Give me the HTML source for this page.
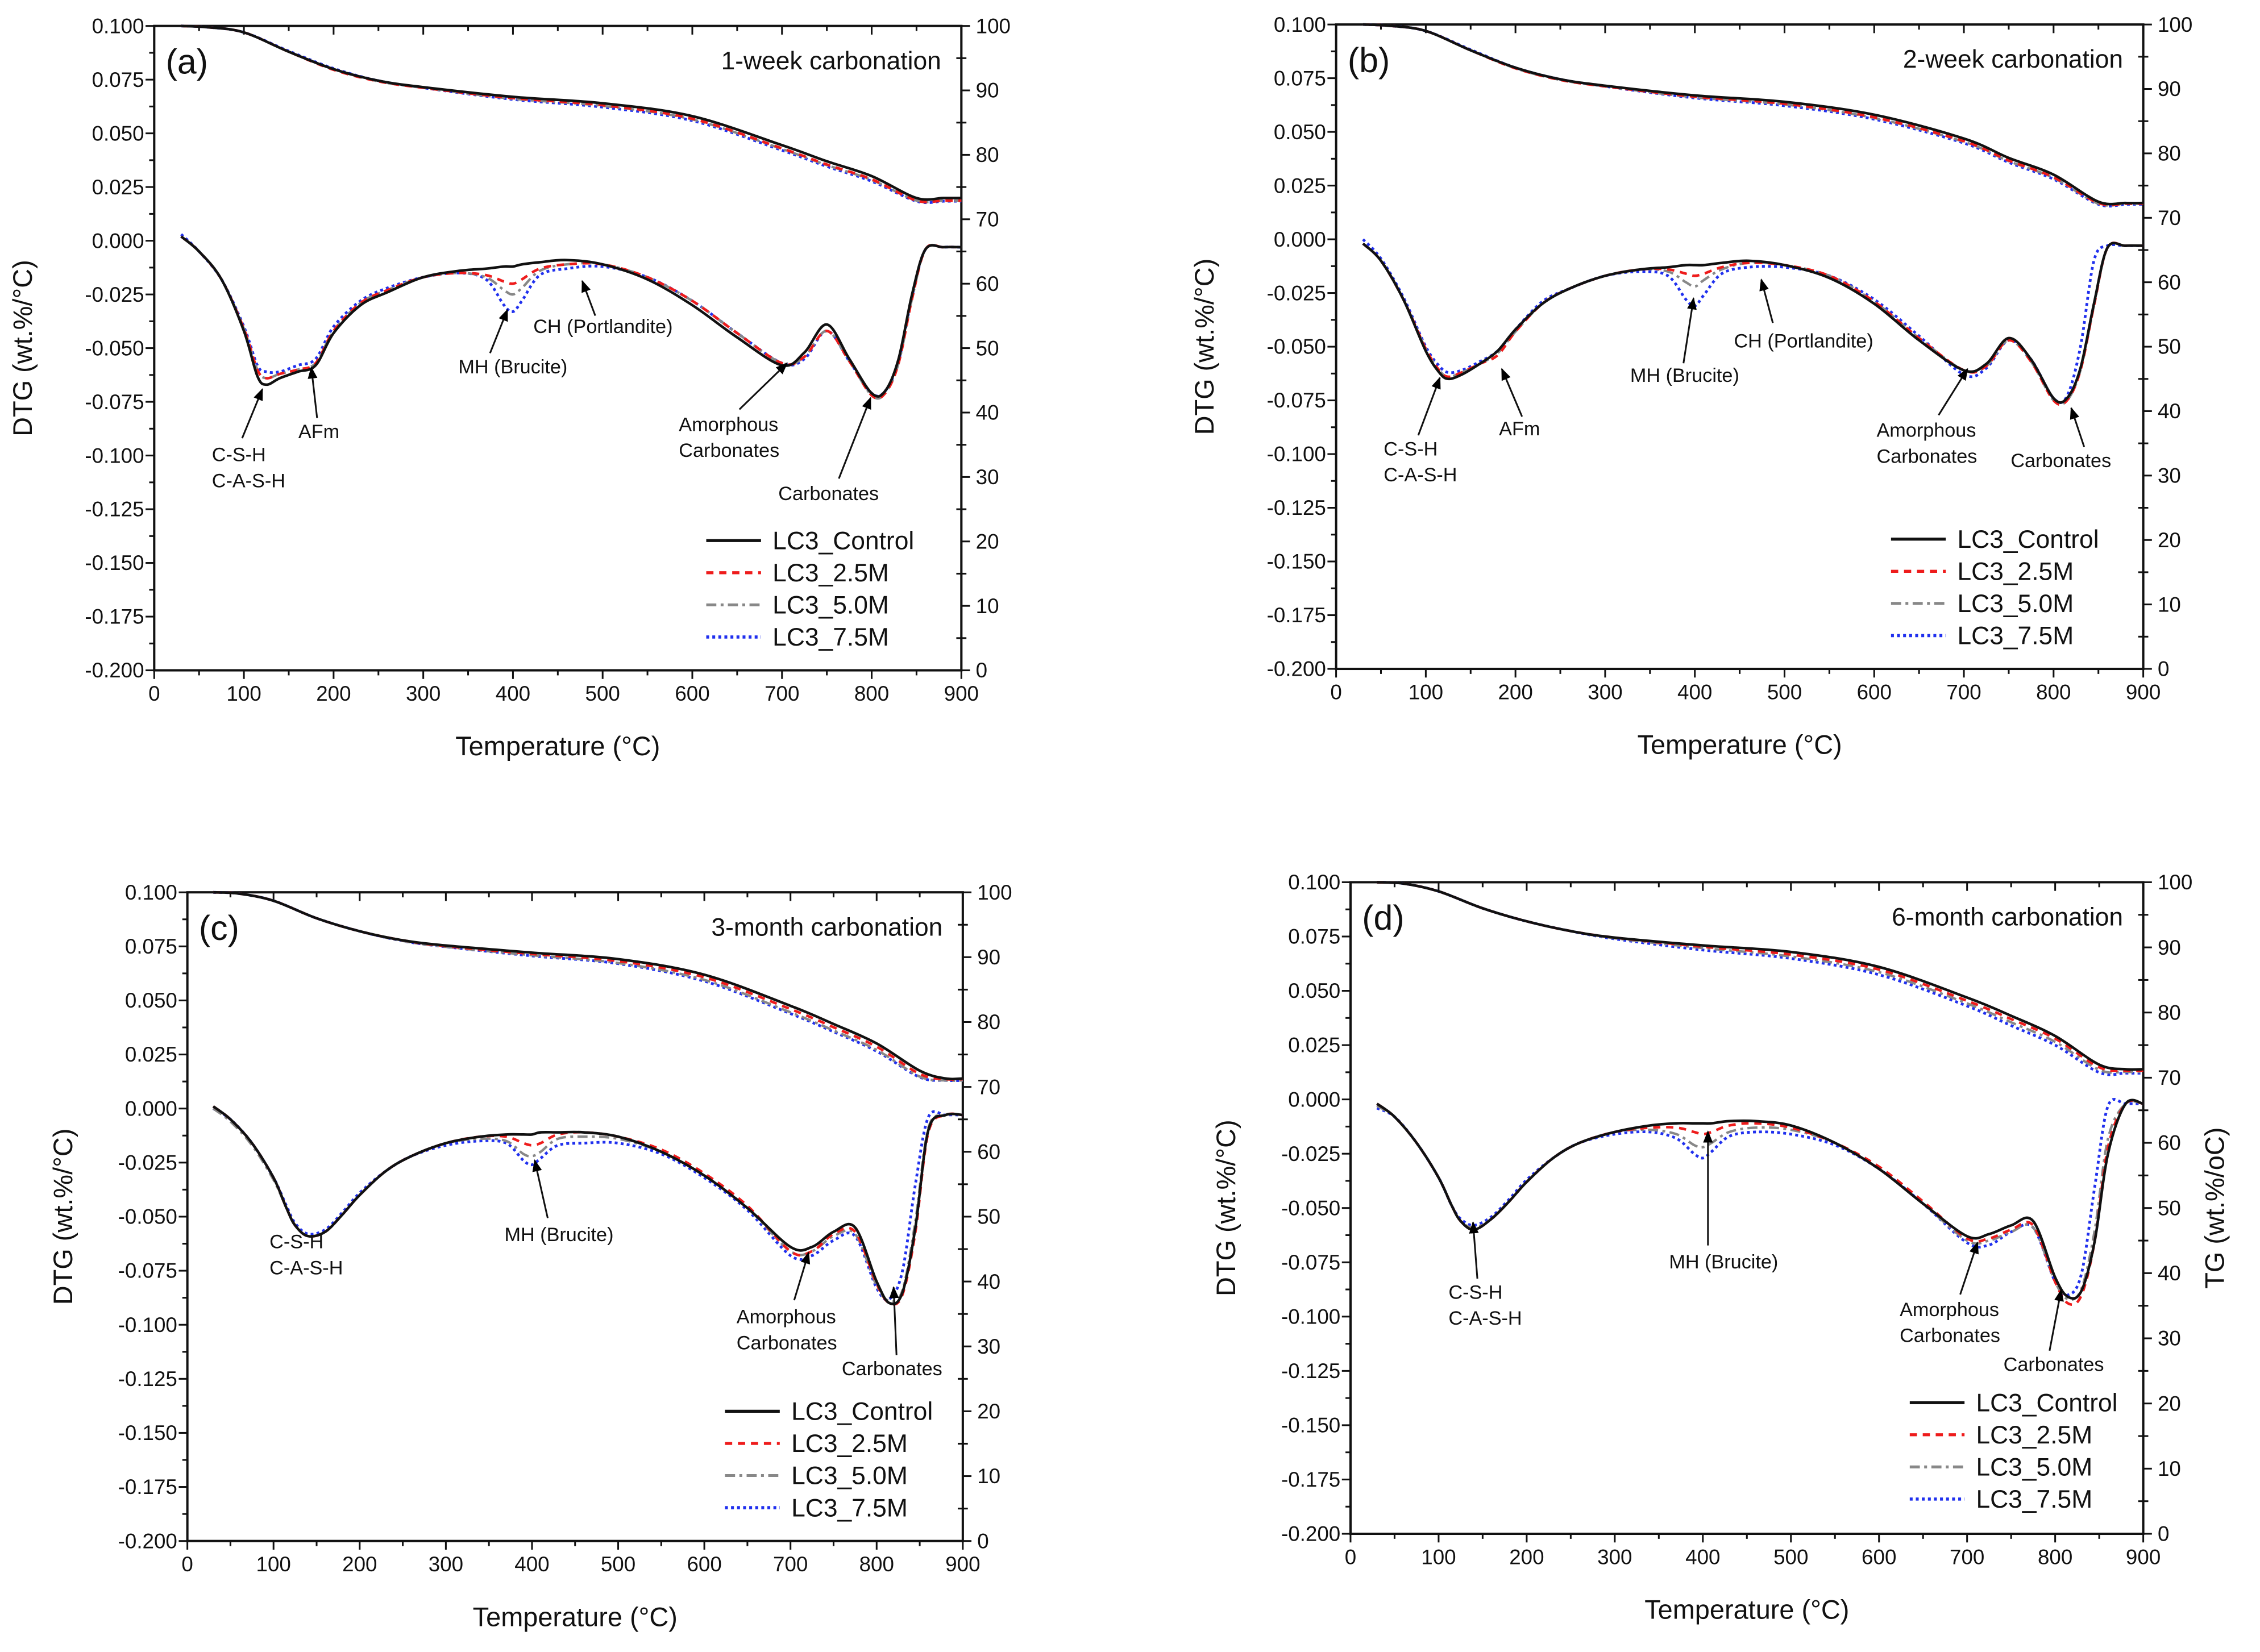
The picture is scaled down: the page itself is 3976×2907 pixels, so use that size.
<!DOCTYPE html>
<html><head><meta charset="utf-8">
<style>
html,body{margin:0;padding:0;background:#fff;}
svg{display:block;font-family:"Liberation Sans",Arial,sans-serif;}
</style></head>
<body>
<svg id="fig" width="3976" height="2907" viewBox="0 0 1568 1146" preserveAspectRatio="none" xmlns="http://www.w3.org/2000/svg">
<defs>
<marker id="ah" viewBox="0 0 10 10" refX="9" refY="5" markerWidth="7" markerHeight="7" orient="auto-start-reverse"><path d="M0,1 L10,5 L0,9 z" fill="#000"/></marker>
</defs>
</svg>
<script>
// shared temperature grids
const T = [30,50,75,100,115,125,140,160,180,200,230,260,300,340,370,390,400,410,430,460,500,550,600,650,700,725,750,775,800,815,830,845,860,880,900];
const TT = [30,60,100,150,200,250,300,400,500,600,700,750,800,850,880,900];
const seriesNames = ["LC3_Control","LC3_2.5M","LC3_5.0M","LC3_7.5M"];

// panel (a) DTG
const aCtrl = [0.002,-0.005,-0.018,-0.042,-0.063,-0.067,-0.064,-0.061,-0.058,-0.043,-0.030,-0.024,-0.017,-0.014,-0.013,-0.012,-0.012,-0.011,-0.010,-0.009,-0.011,-0.018,-0.030,-0.045,-0.058,-0.052,-0.039,-0.055,-0.071,-0.070,-0.055,-0.025,-0.004,-0.003,-0.003];
const a25 = [0.002,-0.005,-0.018,-0.041,-0.060,-0.064,-0.062,-0.060,-0.057,-0.042,-0.029,-0.023,-0.017,-0.015,-0.016,-0.019,-0.020,-0.018,-0.013,-0.011,-0.011,-0.017,-0.028,-0.043,-0.057,-0.054,-0.042,-0.056,-0.072,-0.071,-0.057,-0.027,-0.004,-0.003,-0.003];
const a50 = [0.002,-0.005,-0.018,-0.041,-0.060,-0.064,-0.062,-0.060,-0.057,-0.042,-0.029,-0.023,-0.017,-0.015,-0.017,-0.023,-0.025,-0.022,-0.014,-0.011,-0.011,-0.017,-0.028,-0.043,-0.057,-0.054,-0.042,-0.056,-0.072,-0.071,-0.057,-0.027,-0.004,-0.003,-0.003];
const a75 = [0.003,-0.005,-0.018,-0.040,-0.058,-0.061,-0.061,-0.058,-0.055,-0.040,-0.028,-0.022,-0.017,-0.015,-0.018,-0.030,-0.033,-0.028,-0.016,-0.013,-0.012,-0.017,-0.028,-0.043,-0.057,-0.055,-0.042,-0.056,-0.071,-0.070,-0.056,-0.026,-0.004,-0.003,-0.003];
// panel (a) TG %
const aTgCtrl = [100,99.8,99,96,93.3,91.5,90.5,89,88,86,81.5,79,76.7,73.3,73.3,73.3];
const aTg25 = [100,99.8,99,96,93.2,91.4,90.4,88.8,87.7,85.6,81,78.5,76.2,72.9,72.9,72.9];
const aTg50 = [100,99.8,99,96,93.3,91.4,90.4,88.7,87.6,85.5,80.9,78.4,76.1,72.9,72.9,72.9];
const aTg75 = [100,99.8,99,96.1,93.4,91.5,90.4,88.6,87.4,85.3,80.7,78.2,75.9,72.8,72.8,72.8];

// panel (b)
const bCtrl = [-0.002,-0.010,-0.028,-0.052,-0.062,-0.065,-0.063,-0.058,-0.052,-0.042,-0.030,-0.023,-0.017,-0.014,-0.013,-0.012,-0.012,-0.012,-0.011,-0.010,-0.012,-0.018,-0.030,-0.047,-0.061,-0.058,-0.046,-0.056,-0.074,-0.074,-0.060,-0.030,-0.004,-0.003,-0.003];
const b25 = [-0.002,-0.010,-0.028,-0.051,-0.061,-0.064,-0.062,-0.058,-0.054,-0.043,-0.030,-0.023,-0.017,-0.014,-0.014,-0.016,-0.017,-0.016,-0.013,-0.011,-0.012,-0.017,-0.029,-0.046,-0.061,-0.059,-0.047,-0.057,-0.075,-0.075,-0.061,-0.031,-0.004,-0.003,-0.003];
const b50 = [-0.002,-0.010,-0.028,-0.051,-0.061,-0.064,-0.062,-0.058,-0.053,-0.043,-0.030,-0.023,-0.017,-0.014,-0.015,-0.020,-0.022,-0.019,-0.014,-0.011,-0.012,-0.017,-0.029,-0.046,-0.061,-0.059,-0.047,-0.057,-0.075,-0.075,-0.061,-0.031,-0.004,-0.003,-0.003];
const b75 = [0.000,-0.009,-0.027,-0.050,-0.059,-0.062,-0.061,-0.057,-0.052,-0.042,-0.029,-0.023,-0.017,-0.015,-0.017,-0.028,-0.031,-0.026,-0.016,-0.013,-0.013,-0.017,-0.028,-0.045,-0.063,-0.060,-0.047,-0.056,-0.074,-0.073,-0.050,-0.010,-0.003,-0.003,-0.003];
const bTgCtrl = [100,99.8,99,96,93.3,91.5,90.5,89,88,86,82.3,79.3,76.7,72.5,72.3,72.3];
const bTg25 = [100,99.8,99,96,93.2,91.4,90.4,88.8,87.7,85.6,81.9,78.9,76.3,72.3,72.2,72.2];
const bTg50 = [100,99.8,99,96,93.2,91.4,90.4,88.7,87.6,85.5,81.8,78.8,76.2,72.2,72.2,72.2];
const bTg75 = [100,99.8,99,96.1,93.3,91.5,90.4,88.6,87.4,85.3,81.6,78.6,76,72.1,72.1,72.1];

// panel (c)
const cCtrl = [0.001,-0.005,-0.016,-0.032,-0.046,-0.054,-0.059,-0.057,-0.049,-0.040,-0.029,-0.022,-0.016,-0.013,-0.012,-0.012,-0.012,-0.011,-0.011,-0.011,-0.013,-0.020,-0.031,-0.046,-0.064,-0.064,-0.057,-0.055,-0.080,-0.090,-0.085,-0.055,-0.010,-0.003,-0.003];
const c25 = [0.001,-0.005,-0.016,-0.032,-0.046,-0.054,-0.059,-0.057,-0.049,-0.040,-0.029,-0.022,-0.016,-0.013,-0.013,-0.016,-0.017,-0.016,-0.012,-0.011,-0.013,-0.019,-0.030,-0.045,-0.066,-0.066,-0.058,-0.057,-0.081,-0.090,-0.086,-0.057,-0.011,-0.003,-0.003];
const c50 = [0.000,-0.006,-0.017,-0.033,-0.046,-0.054,-0.059,-0.057,-0.049,-0.040,-0.029,-0.022,-0.016,-0.014,-0.015,-0.021,-0.022,-0.020,-0.014,-0.013,-0.014,-0.020,-0.031,-0.046,-0.066,-0.066,-0.059,-0.058,-0.082,-0.089,-0.084,-0.052,-0.009,-0.003,-0.003];
const c75 = [0.000,-0.005,-0.016,-0.032,-0.045,-0.053,-0.058,-0.056,-0.048,-0.039,-0.029,-0.022,-0.017,-0.015,-0.016,-0.024,-0.026,-0.023,-0.017,-0.016,-0.016,-0.021,-0.032,-0.047,-0.068,-0.068,-0.061,-0.059,-0.083,-0.088,-0.075,-0.035,-0.004,-0.003,-0.003];
const cTgCtrl = [100,99.8,98.7,96,94,92.6,91.8,90.7,89.7,87.3,82.5,79.7,76.7,72.5,71.3,71.3];
const cTg25 = [100,99.8,98.7,96,94,92.6,91.7,90.5,89.4,86.9,82,79.2,76.2,72,71.2,71.2];
const cTg50 = [100,99.8,98.7,96,94,92.5,91.6,90.3,89.1,86.5,81.5,78.7,75.7,71.6,71,71];
const cTg75 = [100,99.8,98.7,96,94,92.5,91.6,90.2,89,86.3,81.3,78.5,75.5,71.5,71,71];

// panel (d)
const dCtrl = [-0.002,-0.008,-0.020,-0.036,-0.049,-0.056,-0.060,-0.055,-0.047,-0.038,-0.027,-0.020,-0.015,-0.012,-0.011,-0.011,-0.011,-0.011,-0.010,-0.010,-0.012,-0.020,-0.032,-0.048,-0.063,-0.062,-0.058,-0.056,-0.082,-0.091,-0.088,-0.065,-0.025,-0.002,-0.002];
const d25 = [-0.002,-0.008,-0.020,-0.036,-0.049,-0.056,-0.060,-0.055,-0.047,-0.038,-0.027,-0.020,-0.015,-0.013,-0.013,-0.015,-0.016,-0.015,-0.012,-0.011,-0.013,-0.020,-0.031,-0.047,-0.064,-0.064,-0.060,-0.058,-0.084,-0.094,-0.090,-0.065,-0.022,-0.002,-0.002];
const d50 = [-0.003,-0.008,-0.020,-0.036,-0.049,-0.056,-0.059,-0.055,-0.047,-0.038,-0.027,-0.020,-0.015,-0.014,-0.016,-0.021,-0.022,-0.020,-0.015,-0.013,-0.014,-0.020,-0.032,-0.048,-0.065,-0.065,-0.061,-0.059,-0.084,-0.092,-0.087,-0.060,-0.018,-0.002,-0.002];
const d75 = [-0.004,-0.008,-0.020,-0.036,-0.049,-0.055,-0.058,-0.054,-0.046,-0.037,-0.027,-0.020,-0.016,-0.015,-0.018,-0.025,-0.027,-0.024,-0.017,-0.015,-0.016,-0.021,-0.032,-0.048,-0.066,-0.067,-0.061,-0.059,-0.084,-0.090,-0.080,-0.040,-0.003,-0.002,-0.002];
const dTgCtrl = [100,99.8,98.6,96,94,92.5,91.5,90.3,89.3,87,82.3,79.5,76.4,72,71.3,71.3];
const dTg25 = [100,99.8,98.6,96,94,92.5,91.5,90.1,88.9,86.6,81.8,79,76,71.6,71.1,71.1];
const dTg50 = [100,99.8,98.6,96,94,92.5,91.4,89.9,88.6,86.2,81.4,78.5,75.5,71.2,70.9,70.9];
const dTg75 = [100,99.8,98.6,96,94,92.5,91.3,89.6,88.3,85.8,81,78,75,70.8,70.7,70.7];

const leftTicks = ["0.100","0.075","0.050","0.025","0.000","-0.025","-0.050","-0.075","-0.100","-0.125","-0.150","-0.175","-0.200"];
const rightTicks = ["0","10","20","30","40","50","60","70","80","90","100"];
const xTicks = ["0","100","200","300","400","500","600","700","800","900"];

const svg = document.getElementById('fig');
const NS = "http://www.w3.org/2000/svg";
function mk(tag, attrs, parent){ const e=document.createElementNS(NS,tag); for(const k in attrs) e.setAttribute(k,attrs[k]); (parent||svg).appendChild(e); return e; }
function txt(s, x, y, size, anchor, parent){ const t=mk('text',{x:x,y:y,'font-size':size,'text-anchor':anchor||'start',fill:'#111'},parent); t.textContent=s; return t; }
function smooth(pts){
  let d="M"+pts[0][0].toFixed(2)+","+pts[0][1].toFixed(2);
  for(let i=0;i<pts.length-1;i++){
    const p0=pts[Math.max(0,i-1)],p1=pts[i],p2=pts[i+1],p3=pts[Math.min(pts.length-1,i+2)];
    const c1x=p1[0]+(p2[0]-p0[0])/6,c1y=p1[1]+(p2[1]-p0[1])/6;
    const c2x=p2[0]-(p3[0]-p1[0])/6,c2y=p2[1]-(p3[1]-p1[1])/6;
    d+=" C"+c1x.toFixed(2)+","+c1y.toFixed(2)+" "+c2x.toFixed(2)+","+c2y.toFixed(2)+" "+p2[0].toFixed(2)+","+p2[1].toFixed(2);
  }
  return d;
}
const styles = [
  {stroke:'#111', dash:'', w:1.8},
  {stroke:'#ee1c1c', dash:'5,4', w:1.8},
  {stroke:'#888', dash:'7,3,2,3', w:1.7},
  {stroke:'#2030ee', dash:'2,2.2', w:1.9}
];

const panels = [
  {id:'a', L:107, R:667, Tp:18, B:465, title:'1-week carbonation', lab:'(a)', dtg:[aCtrl,a25,a50,a75], tg:[aTgCtrl,aTg25,aTg50,aTg75], legX:490, legY:375, leftTitleX:22, rightTitle:false, xTitle:'Temperature (°C)',
   ann:[ {t:['C-S-H','C-A-S-H'],x:147,y:320,a:[168,304,182,270]}, {t:['AFm'],x:207,y:304,a:[220,290,216,255]},
         {t:['MH (Brucite)'],x:318,y:259,a:[340,245,352,215]}, {t:['CH (Portlandite)'],x:370,y:231,a:[413,219,404,195]},
         {t:['Amorphous','Carbonates'],x:471,y:299,a:[513,284,546,252]}, {t:['Carbonates'],x:540,y:347,a:[582,332,604,276]} ]},
  {id:'b', L:927, R:1487, Tp:17, B:464, title:'2-week carbonation', lab:'(b)', dtg:[bCtrl,b25,b50,b75], tg:[bTgCtrl,bTg25,bTg50,bTg75], legX:1312, legY:374, leftTitleX:842, rightTitle:false, xTitle:'Temperature (°C)',
   ann:[ {t:['C-S-H','C-A-S-H'],x:960,y:316,a:[984,302,999,262]}, {t:['AFm'],x:1040,y:302,a:[1056,289,1042,256]},
         {t:['MH (Brucite)'],x:1131,y:265,a:[1168,252,1175,207]}, {t:['CH (Portlandite)'],x:1203,y:241,a:[1230,224,1222,194]},
         {t:['Amorphous','Carbonates'],x:1302,y:303,a:[1345,288,1365,256]}, {t:['Carbonates'],x:1395,y:324,a:[1446,310,1437,283]} ]},
  {id:'c', L:130, R:668, Tp:619, B:1069, title:'3-month carbonation', lab:'(c)', dtg:[cCtrl,c25,c50,c75], tg:[cTgCtrl,cTg25,cTg50,cTg75], legX:503, legY:979, leftTitleX:50, rightTitle:false, xTitle:'Temperature (°C)',
   ann:[ {t:['C-S-H','C-A-S-H'],x:187,y:866,a:null}, {t:['MH (Brucite)'],x:350,y:861,a:[380,845,371,805]},
         {t:['Amorphous','Carbonates'],x:511,y:918,a:[551,902,561,869]}, {t:['Carbonates'],x:584,y:954,a:[622,940,620,893]} ]},
  {id:'d', L:937, R:1487, Tp:612, B:1064, title:'6-month carbonation', lab:'(d)', dtg:[dCtrl,d25,d50,d75], tg:[dTgCtrl,dTg25,dTg50,dTg75], legX:1325, legY:973, leftTitleX:857, rightTitle:true, xTitle:'Temperature (°C)',
   ann:[ {t:['C-S-H','C-A-S-H'],x:1005,y:901,a:[1025,887,1022,848]}, {t:['MH (Brucite)'],x:1158,y:880,a:[1185,864,1185,785]},
         {t:['Amorphous','Carbonates'],x:1318,y:913,a:[1360,898,1372,862]}, {t:['Carbonates'],x:1390,y:951,a:[1422,937,1430,895]} ]}
];

panels.forEach(p=>{
  const g = mk('g',{});
  
  
  const xs = t => p.L + (t/900)*(p.R-p.L);
  const ys = v => p.Tp + (0.1 - v)/0.3*(p.B-p.Tp);
  const ysTG = v => ys(-0.2 + v*0.003);

  const fr = mk('rect',{x:p.L,y:p.Tp,width:p.R-p.L,height:p.B-p.Tp,fill:'none',stroke:'#111','stroke-width':1.6},g);
  
  

  for(let t=0;t<=900;t+=50){
    const major = t%100===0, x=xs(t), len=major?6:3.5;
    mk('line',{x1:x,y1:p.B,x2:x,y2:p.B+len,stroke:'#111','stroke-width':1.2},g);
    mk('line',{x1:x,y1:p.Tp,x2:x,y2:p.Tp+len,stroke:'#111','stroke-width':1.2},g);
  }
  xTicks.forEach((s,i)=>{ const lt=txt(s, xs(i*100), p.B+21, 14.5, 'middle', g);   });
  for(let i=0;i<=24;i++){
    const v=0.1-i*0.0125, y=ys(v), len=(i%2===0)?6:3.5;
    mk('line',{x1:p.L-len,y1:y,x2:p.L,y2:y,stroke:'#111','stroke-width':1.2},g);
  }
  leftTicks.forEach((s,i)=>{ const lt=txt(s, p.L-7, ys(0.1-i*0.025)+5, 14.5, 'end', g);   });
  for(let i=0;i<=20;i++){
    const y=ysTG(i*5), len=(i%2===0)?6:3.5;
    mk('line',{x1:p.R,y1:y,x2:p.R+len,y2:y,stroke:'#111','stroke-width':1.2},g);
    if(i%2===1) mk('line',{x1:p.R-3.5,y1:y,x2:p.R,y2:y,stroke:'#111','stroke-width':1.2},g);
  }
  rightTicks.forEach((s,i)=>{ const lt=txt(s, p.R+10, ysTG(i*10)+5, 14.5, 'start', g);   });

  const xt = txt(p.xTitle, (p.L+p.R)/2, p.B+59, 18.5, 'middle', g);
  
  
  const yc = (p.Tp+p.B)/2;
  const yt = mk('text',{x:p.leftTitleX,y:yc,'font-size':18.5,'text-anchor':'middle',fill:'#111',transform:'rotate(-90 '+p.leftTitleX+' '+yc+')'},g);
  yt.textContent = 'DTG (wt.%/°C)';
  
  
  if(p.rightTitle){
    const rx=1543;
    const rt = mk('text',{x:rx,y:yc,'font-size':18.5,'text-anchor':'middle',fill:'#111',transform:'rotate(-90 '+rx+' '+yc+')'},g);
    rt.textContent = 'TG (wt.%/oC)';
    
    
  }

  const pl = txt(p.lab, p.L+8, p.Tp+33, 24, 'start', g);
  
  
  const pt = txt(p.title, p.R-14, p.Tp+30, 17.5, 'end', g);
  
  

  for(let s=3;s>=0;s--){
    const st=styles[s];
    const ptsD = T.map((t,i)=>[xs(t), ys(p.dtg[s][i])]);
    const pd = mk('path',{d:smooth(ptsD),fill:'none',stroke:st.stroke,'stroke-width':st.w,'stroke-dasharray':st.dash,'stroke-linejoin':'round'},g);
    
    
    const ptsT = TT.map((t,i)=>[xs(t), ysTG(p.tg[s][i])]);
    const pg = mk('path',{d:smooth(ptsT),fill:'none',stroke:st.stroke,'stroke-width':st.w,'stroke-dasharray':st.dash,'stroke-linejoin':'round'},g);
    
    
  }

  p.ann.forEach(a=>{
    a.t.forEach((line,k)=>{ const at=txt(line, a.x, a.y+k*18, 13.5, 'start', g);   });
    if(a.a){ const ar=mk('line',{x1:a.a[0],y1:a.a[1],x2:a.a[2],y2:a.a[3],stroke:'#111','stroke-width':1.2,'marker-end':'url(#ah)'},g);
      
       }
  });

  seriesNames.forEach((n,i)=>{
    const st=styles[i], y=p.legY+i*22.3;
    const ll = mk('line',{x1:p.legX,y1:y,x2:p.legX+38,y2:y,stroke:st.stroke,'stroke-width':st.w+0.3,'stroke-dasharray':st.dash},g);
    
    
    const lt = txt(n, p.legX+46, y+6, 17.5, 'start', g);
    
    
  });
});
</script>
</body></html>
